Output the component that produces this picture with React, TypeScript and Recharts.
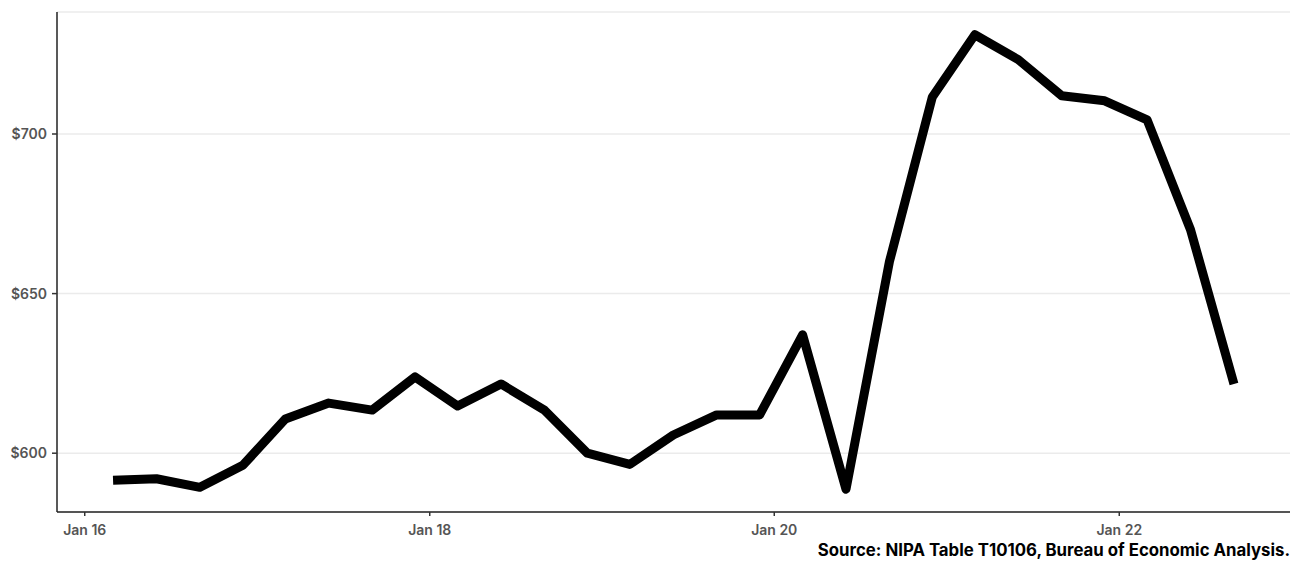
import React from "react";
import { LineChart, Line, XAxis, YAxis, CartesianGrid } from "recharts";

const quarterDates: string[] = [
  "2016-03-01", "2016-06-01", "2016-09-01", "2016-12-01",
  "2017-03-01", "2017-06-01", "2017-09-01", "2017-12-01",
  "2018-03-01", "2018-06-01", "2018-09-01", "2018-12-01",
  "2019-03-01", "2019-06-01", "2019-09-01", "2019-12-01",
  "2020-03-01", "2020-06-01", "2020-09-01", "2020-12-01",
  "2021-03-01", "2021-06-01", "2021-09-01", "2021-12-01",
  "2022-03-01", "2022-06-01", "2022-09-01",
];

const spendingValues: number[] = [
  591.5, 592.0, 589.3, 596.2,
  610.7, 615.7, 613.5, 623.9,
  614.8, 621.7, 613.5, 600.0,
  596.5, 605.7, 612.0, 612.0,
  637.1, 588.7, 660.0, 711.6,
  731.1, 723.3, 712.0, 710.4,
  704.4, 670.0, 621.7,
];

const xTickDates: string[] = ["2016-01-01", "2018-01-01", "2020-01-01", "2022-01-01"];
const yTicks: number[] = [600, 650, 700];
const sourceNote = "Source: NIPA Table T10106, Bureau of Economic Analysis.";

const data = quarterDates.map((d, i) => ({ t: Date.parse(d), v: spendingValues[i] }));
const xTicks = xTickDates.map((d) => Date.parse(d));

const tMin = data[0].t;
const tMax = data[data.length - 1].t;
const tPad = (tMax - tMin) * 0.05;
const vMin = Math.min(...spendingValues);
const vMax = Math.max(...spendingValues);
const vPad = (vMax - vMin) * 0.05;

const fmtX = (t: number) => {
  const d = new Date(t);
  return `Jan ${String(d.getUTCFullYear()).slice(2)}`;
};

const tickStyle = { fill: "#555", fontSize: 14, fontFamily: "Inter, sans-serif", fontWeight: 600 };

export default function App() {
  return (
    <div style={{ position: "absolute", left: 0, top: 0, width: 1294, height: 569, background: "#fff" }}>
      <LineChart
        width={1294}
        height={569}
        data={data}
        margin={{ top: 12, right: 4, bottom: 27, left: 0 }}
      >
        <CartesianGrid horizontal={true} vertical={false} stroke="#ebebeb" strokeWidth={1.5} />
        <XAxis
          dataKey="t"
          type="number"
          domain={[tMin - tPad, tMax + tPad]}
          ticks={xTicks}
          tickFormatter={fmtX}
          height={30}
          tickSize={4}
          tickMargin={9}
          tick={tickStyle}
          axisLine={{ stroke: "#222", strokeWidth: 1.5 }}
          tickLine={{ stroke: "#333", strokeWidth: 1.5 }}
          allowDataOverflow
        />
        <YAxis
          type="number"
          domain={[vMin - vPad, vMax + vPad]}
          ticks={yTicks}
          tickFormatter={(v: number) => `$${v}`}
          width={57}
          tickSize={5}
          tickMargin={5}
          tick={tickStyle}
          axisLine={{ stroke: "#222", strokeWidth: 1.5 }}
          tickLine={{ stroke: "#333", strokeWidth: 1.5 }}
          allowDataOverflow
        />
        <Line
          type="linear"
          dataKey="v"
          stroke="#000"
          strokeWidth={9}
          strokeLinejoin="round"
          strokeLinecap="butt"
          dot={false}
          activeDot={false}
          isAnimationActive={false}
        />
      </LineChart>
      <div
        style={{
          position: "absolute",
          right: 4,
          top: 540,
          fontFamily: "Inter, sans-serif",
          fontWeight: 700,
          fontSize: 16.8,
          lineHeight: "20px",
          color: "#000",
          whiteSpace: "nowrap",
        }}
      >
        {sourceNote}
      </div>
    </div>
  );
}
